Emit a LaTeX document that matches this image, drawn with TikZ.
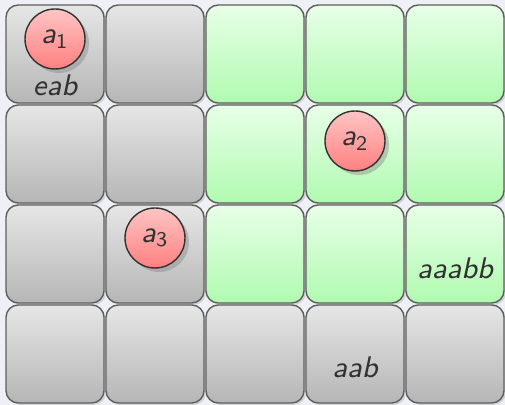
\documentclass[tikz,border=0pt]{standalone}
\usetikzlibrary{shadows}
\definecolor{bgcol}{RGB}{238,240,245}
\definecolor{cellline}{RGB}{95,95,95}
\definecolor{graytop}{RGB}{230,230,230}
\definecolor{graybot}{RGB}{182,182,182}
\definecolor{greentop}{RGB}{232,255,232}
\definecolor{greenbot}{RGB}{176,250,176}
\definecolor{redtop}{RGB}{255,196,196}
\definecolor{redbot}{RGB}{255,128,128}
\definecolor{textcol}{RGB}{50,50,50}
\tikzset{
  cell/.style={draw=cellline, line width=0.4pt, rounded corners=3.5pt, minimum size=0.98cm, inner sep=0pt,
    top color=graytop, bottom color=graybot,
    drop shadow={opacity=0.25, shadow xshift=0.02cm, shadow yshift=-0.02cm}},
  goal/.style={cell, top color=greentop, bottom color=greenbot},
  agent/.style={circle, draw=textcol, line width=0.4pt, minimum size=0.6cm, inner sep=0pt,
    top color=redtop, bottom color=redbot, text=textcol, font=\fontsize{8.5}{10}\selectfont\sffamily,
    drop shadow={opacity=0.4, shadow xshift=0.04cm, shadow yshift=-0.04cm}},
  word/.style={text=textcol, font=\fontsize{8.5}{10}\selectfont\sffamily\itshape}
}
\begin{document}
\begin{tikzpicture}
    % Background
    \fill[bgcol] (0,0) rectangle (5.05,4.05);
    \useasboundingbox (0,0) rectangle (5.05,4.05);

    % Grid cells
    \foreach \i in {0,1}
      \foreach \j in {0,...,3}
        \node[cell] (c\i\j) at ({0.55+\i},{3.51-\j}) {};
    \foreach \i in {2,3,4}
      \foreach \j in {0,1,2}
        \node[goal] (c\i\j) at ({0.55+\i},{3.51-\j}) {};
    \foreach \i in {2,3,4}
      \node[cell] (c\i3) at ({0.55+\i},0.51) {};

    % Agents
    \node[agent] (a1) at ([yshift=0.15cm]c00) {\textit{a}\textsubscript{1}};
    \node[agent] (a2) at ([yshift=0.13cm]c31) {\textit{a}\textsubscript{2}};
    \node[agent] (a3) at ([yshift=0.16cm]c12) {\textit{a}\textsubscript{3}};

    % Words
    \node[word] (w1) at ([yshift=-0.31cm]c00) {eab};
    \node[word] (w2) at ([yshift=-0.14cm]c42) {aaabb};
    \node[word] (w3) at ([yshift=-0.13cm]c33) {aab};

\end{tikzpicture}
\end{document}
